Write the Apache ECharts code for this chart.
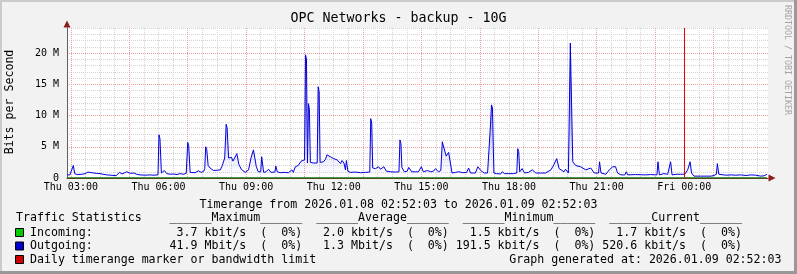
<!DOCTYPE html>
<html>
<head>
<meta charset="utf-8">
<script src="https://cdn.jsdelivr.net/npm/echarts@6/dist/echarts.min.js"></script>
<style>
html,body{margin:0;padding:0;background:#f2f2f2;}
#chart{width:797px;height:274px;}
</style>
</head>
<body>
<div id="chart"></div>
<script>
// ---- data (time = minutes since Thu 00:00, values in Mbit/s) ----
const chartTitle = 'OPC Networks - backup - 10G';
const timeStart = 172.05;   // Thu 02:52:03
const timeEnd = 1612.05;    // Fri 02:52:03
const xLabelTicks = [180, 360, 540, 720, 900, 1080, 1260, 1440];
const xMajorGrid = [180, 300, 420, 540, 660, 780, 900, 1020, 1140, 1260, 1380, 1500];
const yLabelTicks = [0, 5, 10, 15, 20];
const yMinorGrid = [1, 2, 3, 4, 6, 7, 8, 9, 11, 12, 13, 14, 16, 17, 18, 19, 21, 22, 23, 24];
const markerTime = [1440];

const outTime = [
173,178,182,185,188,193,203,209,215,219,
223,232,240,246,254,258,273,276,280,285,
288,295,302,310,315,322,332,343,349,353,
359,361,363,366,368,372,377,384,390,398,
404,411,417,420,422,425,429,435,442,448,
453,455,457,459,462,464,466,473,481,487,
491,496,499,501,504,510,513,521,525,530,
534,538,545,550,555,561,565,570,572,576,
581,586,591,599,601,604,610,618,627,634,
637,641,647,653,660,662,664,666,668,670,
672,678,686,688,690,692,699,703,706,713,
720,727,734,737,741,744,746,749,754,764,
775,785,794,796,798,800,806,812,816,823,
828,836,847,854,856,858,860,865,871,874,
880,888,894,900,904,913,919,925,929,935,
940,943,946,951,956,960,963,970,977,985,
993,997,1001,1011,1016,1022,1029,1036,1040,1042,
1044,1046,1049,1054,1063,1066,1071,1079,1089,1096,
1098,1100,1102,1107,1112,1120,1128,1135,1145,1155,
1166,1172,1178,1183,1186,1193,1196,1202,1206,1208,
1211,1217,1227,1238,1248,1255,1264,1266,1269,1272,
1279,1286,1293,1299,1303,1310,1318,1321,1324,1340,
1361,1371,1384,1386,1389,1398,1406,1410,1412,1415,
1423,1433,1441,1447,1452,1455,1460,1474,1495,1501,
1506,1508,1511,1515,1526,1536,1546,1556,1567,1577,
1587,1597,1604,1610];
const outValue = [
0.5,0.5,0.6,2.0,0.7,0.55,0.6,0.7,0.95,1.25,
0.85,0.75,0.7,0.6,0.5,0.42,0.38,0.6,0.9,0.65,
0.85,1.0,0.75,0.8,0.6,0.5,0.45,0.5,0.45,0.55,
0.5,6.9,6.3,0.8,0.75,1.2,0.7,0.6,0.65,0.55,
0.7,0.6,0.75,5.7,5.2,0.9,1.0,0.85,1.15,0.9,
1.1,1.5,5.0,4.6,2.0,1.8,1.6,1.2,1.25,1.3,
2.0,3.2,8.6,8.0,3.2,3.3,2.7,3.9,2.2,1.4,
1.1,0.9,1.3,3.2,4.5,1.8,1.0,1.0,3.4,0.9,
1.0,1.4,0.9,0.95,1.9,1.0,0.85,0.9,0.85,1.3,
0.9,1.8,2.0,2.7,2.9,19.7,19.0,2.4,11.9,11.0,
2.5,2.4,2.4,14.6,13.8,2.5,2.6,3.0,3.7,3.4,
3.1,2.9,2.3,2.8,2.4,1.3,2.8,1.1,0.9,0.95,
0.85,0.9,0.95,9.5,8.8,1.6,1.5,1.8,1.4,1.8,
1.1,1.0,0.95,1.0,6.1,5.5,1.7,1.0,1.1,1.7,
1.0,1.0,1.0,1.8,1.0,1.2,1.0,1.1,1.5,1.0,
1.2,5.8,5.6,3.5,4.1,4.0,0.8,0.9,1.0,0.85,
0.9,1.6,0.8,0.8,1.8,1.2,0.8,0.8,0.8,8.5,
11.7,11.2,0.8,0.7,0.65,1.0,0.7,0.7,0.7,0.8,
4.7,4.2,1.0,1.5,0.8,0.9,1.3,0.8,0.8,0.8,
1.3,2.1,3.1,1.5,1.8,1.0,1.4,0.8,21.6,21.6,
2.6,2.0,1.8,1.3,1.6,0.8,0.8,2.6,0.8,0.7,
0.6,1.3,1.8,1.8,0.8,0.5,0.5,1.0,0.5,0.55,
0.5,0.55,0.5,2.6,0.5,0.7,0.6,0.6,2.6,0.5,
0.6,0.6,0.6,1.3,2.6,0.8,0.3,0.3,0.3,0.4,
0.6,2.3,0.6,0.5,0.45,0.5,0.45,0.5,0.4,0.5,
0.45,0.3,0.35,0.6];

const inTime = [173,300,420,540,660,780,900,1020,1140,1260,1380,1500,1610];
const inValue = [0.0018,0.0020,0.0021,0.0019,0.0025,0.0037,0.0020,0.0018,0.0021,0.0019,0.0016,0.0015,0.0017];

const legendHeader = 'Traffic Statistics    ______Maximum______  ______Average______  ______Minimum______  ______Current______';
const legendIncoming = '  Incoming:            3.7 kbit/s  (  0%)   2.0 kbit/s  (  0%)   1.5 kbit/s  (  0%)   1.7 kbit/s  (  0%)';
const legendOutgoing = '  Outgoing:           41.9 Mbit/s  (  0%)   1.3 Mbit/s  (  0%) 191.5 kbit/s  (  0%) 520.6 kbit/s  (  0%)';
const legendMarker = '  Daily timerange marker or bandwidth limit';
const timerangeText = 'Timerange from 2026.01.08 02:52:03 to 2026.01.09 02:52:03';
const generatedText = 'Graph generated at: 2026.01.09 02:52:03';

// ---- build ----
const xMinorGrid = [];
for (let m = 210; m <= timeEnd; m += 30) { if (xMajorGrid.indexOf(m) < 0) xMinorGrid.push(m); }

const outData = outTime.map((t, i) => [t, outValue[i]]);
const inData = inTime.map((t, i) => [t, inValue[i]]);

const MONO = '"DejaVu Sans Mono", monospace';
const pad = n => (n < 10 ? '0' : '') + n;
const xFmt = v => (v < 1440 ? 'Thu ' : 'Fri ') + pad(Math.floor((v % 1440) / 60)) + ':' + pad(Math.round(v % 60));

const majorColor = '#eda0a0';
const minorColor = '#d4d4d4';

function txt(x, y, text, size, align, vAlign, color, rotation) {
  return {
    type: 'text', x: x, y: y, rotation: rotation || 0, silent: true, z: 100,
    style: {
      text: text, font: size + 'px ' + MONO, fill: color || '#000',
      align: align, textAlign: align, verticalAlign: vAlign, textVerticalAlign: vAlign
    }
  };
}
function box(y, color) {
  return { type: 'rect', silent: true, z: 100, shape: { x: 15.5, y: y, width: 8, height: 8 },
    style: { fill: color, stroke: '#000', lineWidth: 1 } };
}

const chart = echarts.init(document.getElementById('chart'), null, { renderer: 'canvas' });
chart.setOption({
  animation: false,
  backgroundColor: '#f2f2f2',
  grid: { left: 67, right: 29, top: 28, bottom: 96, show: true, backgroundColor: '#ffffff', borderWidth: 0 },
  xAxis: [
    {
      type: 'value', min: timeStart, max: timeEnd, position: 'bottom', z: 1,
      axisLine: { show: true, onZero: false, lineStyle: { color: '#8c1c1c', width: 1 },
        symbol: ['none', 'triangle'], symbolSize: [7, 7], symbolOffset: [0, 4] },
      axisTick: { show: false, customValues: xMajorGrid },
      axisLabel: { customValues: xLabelTicks, formatter: xFmt, fontFamily: MONO, fontSize: 10, color: '#000', margin: 4 },
      splitLine: { show: true, lineStyle: { color: majorColor, width: 1, type: [1, 1] } }
    },
    {
      type: 'value', min: timeStart, max: timeEnd, position: 'bottom', z: 0,
      axisLine: { show: false },
      axisTick: { show: false, customValues: xMinorGrid },
      axisLabel: { show: false },
      splitLine: { show: true, lineStyle: { color: minorColor, width: 1, type: [1, 1] } }
    }
  ],
  yAxis: [
    {
      type: 'value', min: 0, max: 24, position: 'left', z: 1,
      axisLine: { show: true, onZero: false, lineStyle: { color: '#606060', width: 1 } },
      axisTick: { show: false, customValues: yLabelTicks },
      axisLabel: { customValues: yLabelTicks, formatter: v => (v === 0 ? '0' : v + ' M'),
        fontFamily: MONO, fontSize: 10, color: '#000', margin: 8 },
      splitLine: { show: true, lineStyle: { color: majorColor, width: 1, type: [1, 1] } }
    },
    {
      type: 'value', min: 0, max: 24, position: 'left', z: 0,
      axisLine: { show: true, onZero: false, lineStyle: { color: '#8c1c1c', width: 1 },
        symbol: ['none', 'triangle'], symbolSize: [7, 7], symbolOffset: [0, 4] },
      axisTick: { show: false, customValues: yMinorGrid },
      axisLabel: { show: false },
      splitLine: { show: true, lineStyle: { color: minorColor, width: 1, type: [1, 1] } }
    }
  ],
  series: [
    {
      name: 'Outgoing', type: 'line', xAxisIndex: 0, yAxisIndex: 0, data: outData,
      symbol: 'none', showSymbol: false, z: 3,
      lineStyle: { color: '#0000dd', width: 1 },
      areaStyle: { color: { type: 'linear', x: 0, y: 0, x2: 0, y2: 1, colorStops: [
        { offset: 0, color: 'rgba(0,0,215,1)' },
        { offset: 0.5, color: 'rgba(60,60,225,0.6)' },
        { offset: 1, color: 'rgba(130,130,240,0)' } ] } },
      markLine: { silent: true, symbol: ['none', 'none'], label: { show: false },
        lineStyle: { color: '#ee0000', width: 1, type: 'solid' },
        data: markerTime.map(t => ({ xAxis: t })) }
    },
    {
      name: 'Incoming', type: 'line', xAxisIndex: 0, yAxisIndex: 0, data: inData,
      symbol: 'none', showSymbol: false, z: 4,
      lineStyle: { color: '#127312', width: 1.5 }
    }
  ],
  graphic: { elements: [
    { type: 'rect', silent: true, z: 100, shape: { x: 0, y: 0, width: 797, height: 2 }, style: { fill: '#cbcbcb' } },
    { type: 'rect', silent: true, z: 100, shape: { x: 0, y: 0, width: 2, height: 274 }, style: { fill: '#cbcbcb' } },
    { type: 'rect', silent: true, z: 100, shape: { x: 0, y: 271, width: 797, height: 3 }, style: { fill: '#999999' } },
    { type: 'rect', silent: true, z: 100, shape: { x: 794, y: 0, width: 3, height: 274 }, style: { fill: '#999999' } },
    txt(398.5, 19, chartTitle, 13.3, 'center', 'middle', '#000'),
    txt(787, 60, 'RRDTOOL / TOBI OETIKER', 8.3, 'center', 'middle', '#a4a4a4', -Math.PI / 2),
    txt(10, 102, 'Bits per Second', 11.6, 'center', 'middle', '#000', Math.PI / 2),
    txt(398.5, 204.5, timerangeText, 11.6, 'center', 'middle', '#000'),
    txt(16, 218, legendHeader, 11.6, 'left', 'middle', '#000'),
    txt(16, 232.5, legendIncoming, 11.6, 'left', 'middle', '#000'),
    txt(16, 246, legendOutgoing, 11.6, 'left', 'middle', '#000'),
    txt(16, 260, legendMarker, 11.6, 'left', 'middle', '#000'),
    txt(781.5, 260, generatedText, 11.6, 'right', 'middle', '#000'),
    box(228.5, '#00cc00'),
    box(242, '#0000cc'),
    box(255.5, '#cc0000')
  ] }
});
</script>
</body>
</html>
